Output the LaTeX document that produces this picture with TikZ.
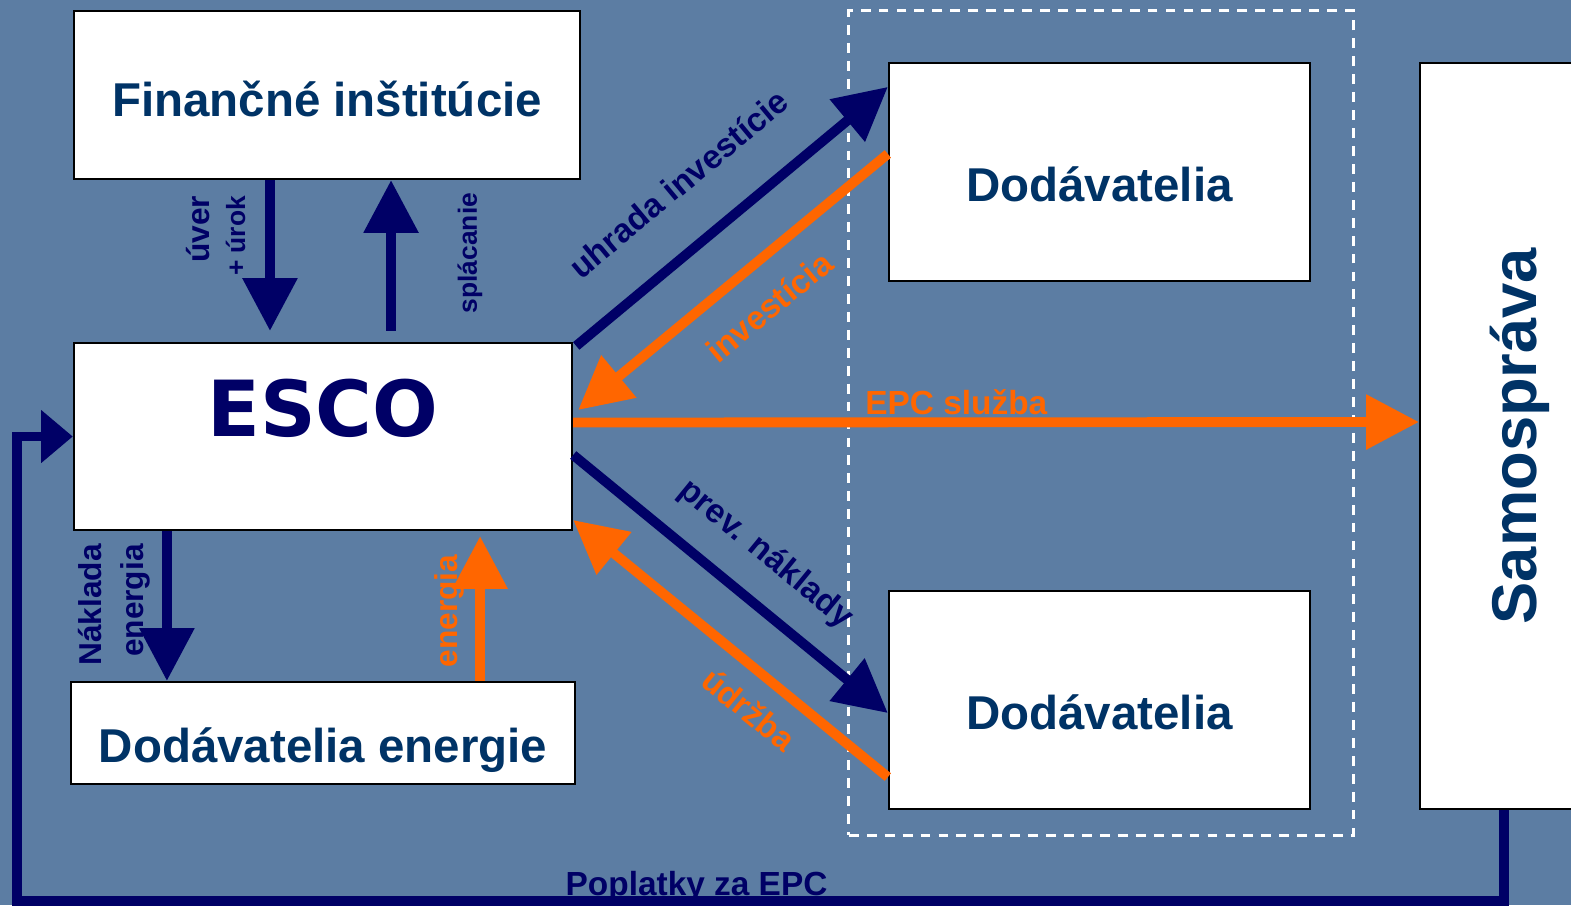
\documentclass[tikz,border=0pt]{standalone}
\usepackage{fontspec}
\setmainfont{Liberation Sans}
\newfontfamily\escofont{DejaVu Sans}
\usetikzlibrary{arrows.meta,positioning,calc}
\definecolor{slide}{RGB}{92,125,163}
\definecolor{navy}{RGB}{0,0,102}
\definecolor{darkblue}{RGB}{0,51,102}
\definecolor{epcorange}{RGB}{255,102,0}

\begin{document}
\begin{tikzpicture}
  [x=0.01cm,y=-0.01cm,
   box/.style={draw=black,fill=white,line width=0.6pt,inner sep=0pt,text=darkblue,
     font=\bfseries\fontsize{13.5}{16}\selectfont},
   navyA/.style={draw=navy,line width=2.8pt,-{Triangle[length=15pt,width=15pt]}},
   orangeA/.style={draw=epcorange,line width=2.8pt,-{Triangle[length=15pt,width=15pt]}},
   navyL/.style={text=navy,inner sep=1pt,font=\bfseries\fontsize{9.5}{11}\selectfont},
   orangeL/.style={text=epcorange,inner sep=1pt,font=\bfseries\fontsize{9.5}{11}\selectfont}]

  \fill[slide] (0,0) rectangle (1571,905);
  \useasboundingbox (0,0) rectangle (1571,905);

  % dashed frame round the suppliers
  \node[draw=white,line width=0.9pt,dash pattern=on 2.8pt off 2.3pt,inner sep=0pt,
        minimum width=5.04cm,minimum height=8.24cm] (group) at (1101,423) {};

  \node[box,minimum width=5.06cm,minimum height=1.68cm,text height=12pt,text depth=0pt]
       (fin) at (327,95) {Finančné inštitúcie};
  \node[box,minimum width=4.98cm,minimum height=1.87cm,text=navy,text height=12pt,text depth=12pt,
        font=\escofont\bfseries\fontsize{22}{26}\selectfont]
       (esco) at (323,436.5) {ESCO};
  \node[box,minimum width=5.04cm,minimum height=1.02cm,text height=16.5pt,text depth=0pt]
       (en) at (323,733) {Dodávatelia energie};
  \node[box,minimum width=4.21cm,minimum height=2.18cm,text height=17pt,text depth=0pt]
       (dod1) at (1099.5,172) {Dodávatelia};
  \node[box,minimum width=4.21cm,minimum height=2.18cm,text height=17pt,text depth=0pt]
       (dod2) at (1099.5,700) {Dodávatelia};
  \node[box,minimum width=2cm,minimum height=7.46cm,font=\bfseries\fontsize{18}{20}\selectfont]
       (samo) at (1520,436) {\rotatebox{90}{Samospráva}};

  % loan
  \draw[navyA] ([xshift=-0.57cm]fin.south) -- ([shift={(-0.53cm,0.11cm)}]esco.north);
  \draw[navyA] ([shift={(0.68cm,0.11cm)}]esco.north) -- ([xshift=0.64cm]fin.south);
  \node[navyL,rotate=90,align=right,font=\bfseries\fontsize{9}{10}\selectfont] (loan) at (216,236)
       {úver\\{\fontsize{7.5}{10}\selectfont + úrok}};
  \node[navyL,rotate=90,font=\bfseries\fontsize{7.5}{9}\selectfont] (repay) at (470,253) {splácanie};

  % energy
  \draw[navyA] ([xshift=-1.56cm]esco.south) -- ([xshift=-1.56cm]en.north);
  \draw[orangeA] ([xshift=1.57cm]en.north) -- ([shift={(1.57cm,-0.05cm)}]esco.south);
  \node[navyL,rotate=90,align=right,font=\bfseries\fontsize{9}{12}\selectfont] (cost) at (114,605)
       {Náklada\\energia};
  \node[orangeL,rotate=90,font=\bfseries\fontsize{9}{11}\selectfont] (energy) at (449,611) {energia};

  % suppliers
  \draw[navyA] ([shift={(0.03cm,-0.04cm)}]esco.north east)
    -- node[navyL,sloped,above=11pt,pos=0.45] {uhrada investície} ([yshift=-0.25cm]dod1.north west);
  \draw[orangeA] ([yshift=-0.92cm]dod1.north west)
    -- node[orangeL,sloped,below=6pt,pos=0.47] {investícia} ([shift={(0.05cm,0.265cm)}]esco.east);
  \draw[navyA] ([yshift=-0.185cm]esco.east)
    -- node[navyL,sloped,above=6pt,pos=0.52] {prev. náklady} ([yshift=-0.13cm]dod2.west);
  \draw[orangeA] ([yshift=-0.77cm]dod2.west)
    -- node[orangeL,sloped,below=4pt,pos=0.37] {údržba} ([yshift=-0.835cm]esco.east);

  % service and fees
  \draw[orangeA] ([yshift=0.14cm]esco.east)
    -- node[orangeL,above=-0.3pt,pos=0.453] {EPC služba} ([yshift=0.14cm]samo.west);
  \draw[navy,line width=2.8pt,-{Triangle[length=9pt,width=14.5pt]}] ([xshift=-0.16cm]samo.south)
    -- ++(0,91) -- node[navyL,above=-2.6pt,pos=0.543] {Poplatky za EPC} ++(-1487,0) |- (esco.west);

\end{tikzpicture}
\end{document}
